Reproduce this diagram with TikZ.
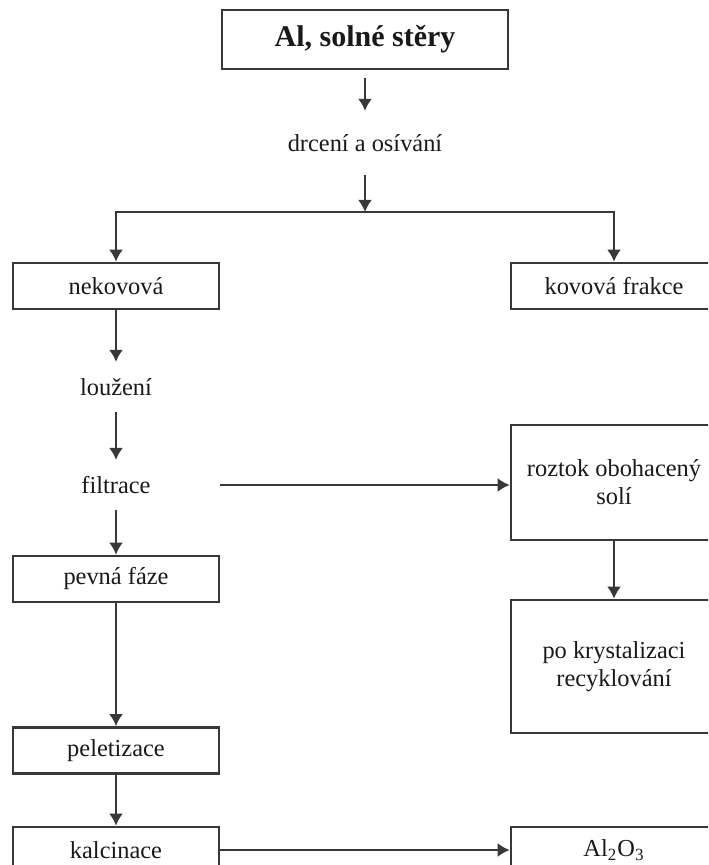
\documentclass[tikz,border=0pt]{standalone}
\usepackage{fontspec}
\setmainfont{Liberation Serif}
\usepackage{xcolor}
\usepackage{tikz}
\usetikzlibrary{arrows.meta,positioning}

\definecolor{linegray}{gray}{0.22}
\definecolor{textgray}{gray}{0.1}

\begin{document}
\begin{tikzpicture}[x=0.5pt,y=-0.5pt,on grid,
        color=linegray,line width=1.1pt,
        >={Latex[length=6pt,width=7pt]},
        every node/.style={text=textgray,font=\fontsize{12.2}{14}\selectfont},
        box/.style={draw=linegray,line width=1.3pt,minimum width=103pt,minimum height=23pt,inner sep=0pt,align=center},
        stage/.style={inner sep=0pt,minimum height=24pt}]
        \useasboundingbox (0,0) rectangle (708,865);
        \clip (0,0) rectangle (708,865);

        \node[box,minimum width=143pt,minimum height=29.5pt,
              font=\fontsize{15}{18}\selectfont\bfseries] (input) at (365,39.5) {Al, solné stěry};
        \node[stage,minimum height=31pt,below=51.75pt of input] (drceni) {drcení a osívání};
        \draw[->,shorten <=4pt] (input.south) -- (drceni.north);
        \coordinate[below=34.5pt of drceni] (split);
        \draw[->] (drceni.south) -- (split);

        \node[box] (nekovova) at (116,286) {nekovová};
        \node[box,right=249pt of nekovova] (kovova) {kovová frakce};
        \draw[->] (split) -| (nekovova.north);
        \draw[->] (split) -| (kovova.north);

        \node[stage,below=50.5pt of nekovova] (louzeni) {loužení};
        \draw[->] (nekovova.south) -- (louzeni.north);

        \node[stage,below=49pt of louzeni] (filtrace) {filtrace};
        \draw[->] (louzeni.south) -- (filtrace.north);

        \node[box,minimum height=57.5pt,below=98.25pt of kovova] (roztok) {roztok obohacený\\solí};
        \draw[->] (nekovova.east |- filtrace) -- (filtrace -| roztok.west);

        \node[box,minimum height=66.5pt,below=92pt of roztok] (krystal) {po krystalizaci\\recyklování};
        \draw[->] (roztok.south) -- (krystal.north);

        \node[box,below=47pt of filtrace] (pevna) {pevná fáze};
        \draw[->] (filtrace.south) -- (pevna.north);

        \node[box,below=85.75pt of pevna] (peletizace) {peletizace};
        \draw[->] (pevna.south) -- (peletizace.north);

        \node[box,below=49.75pt of peletizace] (kalcinace) {kalcinace};
        \draw[->] (peletizace.south) -- (kalcinace.north);

        \node[box,right=249pt of kalcinace] (oxid) {Al\textsubscript{2}O\textsubscript{3}};
        \draw[->] (kalcinace.east) -- (oxid.west);
    \end{tikzpicture}
\end{document}
